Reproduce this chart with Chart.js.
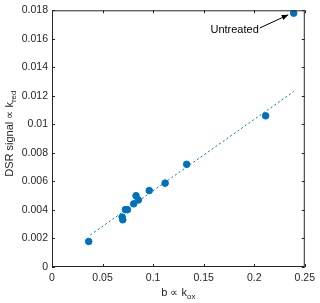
<!DOCTYPE html>
<html>
<head>
<meta charset="utf-8">
<script src="https://cdn.jsdelivr.net/npm/chart.js@4/dist/chart.umd.min.js"></script>
<style>
  html, body { margin: 0; padding: 0; background: #fff; }
  #wrap { width: 320px; height: 303px; }
</style>
</head>
<body>
<div id="wrap"><canvas id="grafica"></canvas></div>
<script>
// datos
const bValues   = [0.0363, 0.0694, 0.0700, 0.0726, 0.0746, 0.0808, 0.0831, 0.0854, 0.0962, 0.1119, 0.1332, 0.2113, 0.2390];
const dsrValues = [0.00179, 0.00350, 0.00331, 0.00402, 0.00402, 0.00443, 0.00500, 0.00470, 0.00536, 0.00588, 0.00720, 0.01060, 0.01780];
const fitX = [0.038, 0.239];
const fitY = [0.00225, 0.01230];
const xTicks = [0, 0.05, 0.1, 0.15, 0.2, 0.25];
const yTicks = [0, 0.002, 0.004, 0.006, 0.008, 0.01, 0.012, 0.014, 0.016, 0.018];
const note = { text: "Untreated", x: 0.1567, y: 0.01664, tailX: 0.2055, tailY: 0.01676, headX: 0.2336, headY: 0.01768 };

const azul = "#0072BD";
const gris = "#262626";
const fuente = "Liberation Sans, Arial, sans-serif";

// ticks hacia adentro, caja, títulos con subíndices y la anotación
const estiloMatlab = {
    id: "estiloMatlab",
    afterDraw(chart) {
        const { ctx, chartArea: a, scales: { x, y } } = chart;
        ctx.save();
        ctx.strokeStyle = gris;
        ctx.lineWidth = 1;
        ctx.strokeRect(a.left + 0.5, a.top + 0.5, a.right - a.left - 1, a.bottom - a.top - 1);
        ctx.beginPath();
        xTicks.forEach(v => {
            const px = Math.round(x.getPixelForValue(v)) + 0.5;
            ctx.moveTo(px, a.bottom); ctx.lineTo(px, a.bottom - 3);
            ctx.moveTo(px, a.top); ctx.lineTo(px, a.top + 3);
        });
        yTicks.forEach(v => {
            const py = Math.round(y.getPixelForValue(v)) + 0.5;
            ctx.moveTo(a.left, py); ctx.lineTo(a.left + 3, py);
            ctx.moveTo(a.right, py); ctx.lineTo(a.right - 3, py);
        });
        ctx.stroke();

        // título eje x: b ∝ k_ox
        ctx.fillStyle = gris;
        ctx.textBaseline = "alphabetic";
        const drawSub = (main, sub, cx, cy) => {
            ctx.font = "11px " + fuente;
            const w1 = ctx.measureText(main).width;
            ctx.font = "8px " + fuente;
            const w2 = ctx.measureText(sub).width;
            let sx = cx - (w1 + w2) / 2;
            ctx.font = "11px " + fuente;
            ctx.fillText(main, sx, cy);
            ctx.font = "8px " + fuente;
            ctx.fillText(sub, sx + w1, cy + 3);
        };
        ctx.textAlign = "left";
        drawSub("b \u221D k", "ox", (a.left + a.right) / 2, 296);

        ctx.save();
        ctx.translate(13, (a.top + a.bottom) / 2 - 5);
        ctx.rotate(-Math.PI / 2);
        drawSub("DSR signal \u221D k", "red", 0, 0);
        ctx.restore();

        // anotación
        ctx.font = "11px " + fuente;
        ctx.fillStyle = "#000";
        ctx.textBaseline = "middle";
        ctx.fillText(note.text, x.getPixelForValue(note.x), y.getPixelForValue(note.y));
        const tx = x.getPixelForValue(note.tailX), ty = y.getPixelForValue(note.tailY);
        const hx = x.getPixelForValue(note.headX), hy = y.getPixelForValue(note.headY);
        ctx.strokeStyle = "#000";
        ctx.beginPath(); ctx.moveTo(tx, ty); ctx.lineTo(hx, hy); ctx.stroke();
        const ang = Math.atan2(hy - ty, hx - tx);
        ctx.beginPath();
        ctx.moveTo(hx, hy);
        ctx.lineTo(hx - 7 * Math.cos(ang - 0.4), hy - 7 * Math.sin(ang - 0.4));
        ctx.lineTo(hx - 7 * Math.cos(ang + 0.4), hy - 7 * Math.sin(ang + 0.4));
        ctx.closePath();
        ctx.fillStyle = "#000";
        ctx.fill();
        ctx.restore();
    }
};

const ctxDsr = document.getElementById("grafica").getContext("2d");
new Chart(ctxDsr, {
    type: "scatter",
    data: {
        datasets: [
            {
                type: "line",
                data: fitX.map((v, i) => ({ x: v, y: fitY[i] })),
                borderColor: azul,
                borderWidth: 1,
                borderDash: [2, 2.5],
                pointRadius: 0,
                fill: false,
            },
            {
                data: bValues.map((v, i) => ({ x: v, y: dsrValues[i] })),
                backgroundColor: azul,
                borderColor: azul,
                pointRadius: 3.3,
                pointHoverRadius: 3.3,
            },
        ],
    },
    options: {
        responsive: true,
        maintainAspectRatio: false,
        animation: false,
        devicePixelRatio: 1,
        layout: { padding: { top: 6, right: 13, left: 0, bottom: 0 } },
        plugins: { legend: { display: false }, tooltip: { enabled: false } },
        scales: {
            x: {
                type: "linear",
                min: 0, max: 0.25,
                afterBuildTicks: s => { s.ticks = xTicks.map(v => ({ value: v })); },
                afterFit: s => { s.height = 36; },
                grid: { display: false, drawTicks: false },
                border: { display: false },
                ticks: { color: gris, padding: 5, font: { family: fuente, size: 10.5 }, callback: v => String(v) },
            },
            y: {
                min: 0, max: 0.018,
                afterBuildTicks: s => { s.ticks = yTicks.map(v => ({ value: v })); },
                afterFit: s => { s.width = 52; },
                grid: { display: false, drawTicks: false },
                border: { display: false },
                ticks: { color: gris, padding: 4, font: { family: fuente, size: 10.5 }, callback: v => String(v) },
            },
        },
    },
    plugins: [estiloMatlab],
});
</script>
</body>
</html>
